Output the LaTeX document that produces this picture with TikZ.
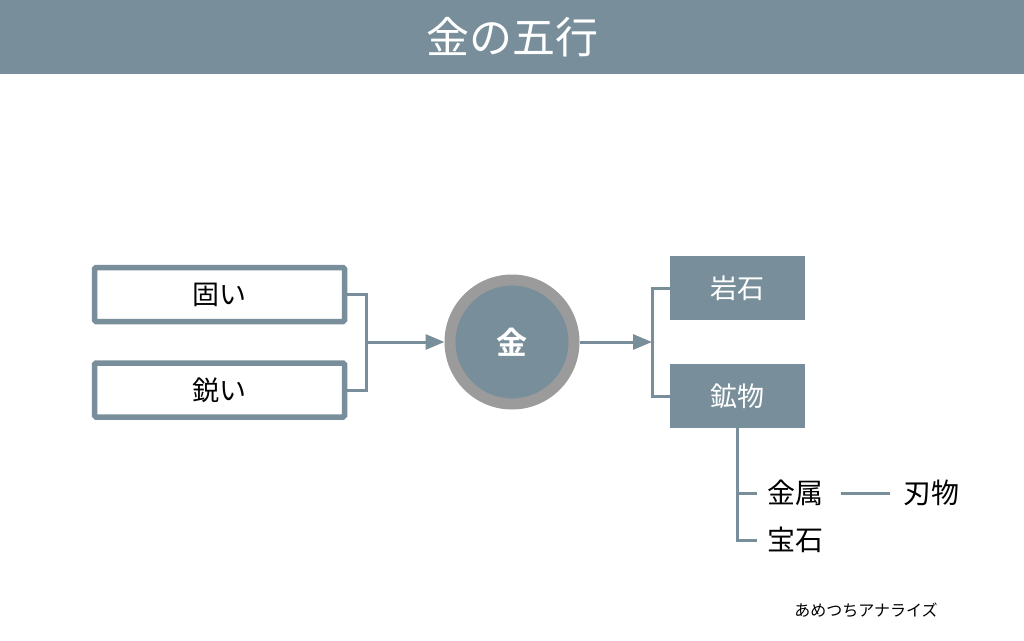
\documentclass[tikz,border=0pt]{standalone}
\usepackage{fontspec}
\newfontfamily\jp{Noto Sans CJK JP}
\newfontfamily\jpb{Noto Sans CJK JP Bold}
\usetikzlibrary{arrows.meta}
\definecolor{slate}{HTML}{788F9B}
\definecolor{ring}{HTML}{9B9B9B}
\tikzset{
  x=1pt,y=-1pt,
  outbox/.style={draw=slate,line width=5.5pt,rounded corners=1.5pt,fill=white,minimum width=250pt,minimum height=54pt,inner sep=0pt,font=\jp\fontsize{27}{27}\selectfont},
  fillbox/.style={fill=slate,minimum width=135pt,minimum height=64pt,inner sep=0pt,text=white,font=\jp\fontsize{27}{27}\selectfont},
  conn/.style={draw=slate,line width=3pt},
  arr/.style={conn,-{Triangle[length=19pt,width=15pt]}},
  plain/.style={inner sep=0pt,font=\jp\fontsize{28}{28}\selectfont},
}
\begin{document}
\begin{tikzpicture}
\useasboundingbox (0,0) rectangle (1024,640);
\fill[white] (0,0) rectangle (1024,640);
\fill[slate] (0,0) rectangle (1024,74);
\node[text=white,font=\jp\fontsize{43}{43}\selectfont] (title) at (512,37) {金の五行};

\node[outbox] (hard) at (219.5,294.5) {固い};
\node[outbox] (sharp) at (219.5,390) {鋭い};

\node[circle,fill=slate,draw=ring,line width=11pt,minimum size=124pt,inner sep=0pt,text=white,font=\jpb\fontsize{31}{31}\selectfont] (metal) at (512,342) {金};

\coordinate (jl) at (366,342);
\draw[conn] (hard.east) -- (hard.east -| jl) -- (sharp.east -| jl) -- (sharp.east);
\draw[arr] (jl) -- (metal.west);

\node[fillbox] (rock) at (737.5,288) {岩石};
\node[fillbox] (mineral) at (737.5,396) {鉱物};

\coordinate (jr) at (652,342);
\draw[arr] (metal.east) -- (jr);
\draw[conn] (rock.west) -- (rock.west -| jr) -- (mineral.west -| jr) -- (mineral.west);

\node[plain,anchor=west] (kinzoku) at (767,493) {金属};
\node[plain,anchor=west] (hoseki) at (767,540) {宝石};
\node[plain,anchor=west] (hamono) at (903,493) {刃物};

\coordinate (jv) at (737,493);
\draw[conn] (mineral.south) -- (mineral.south |- hoseki) -- ([xshift=-10pt]hoseki.west);
\draw[conn] (jv) -- ([xshift=-10pt]kinzoku.west);
\draw[conn] ([xshift=18pt]kinzoku.east) -- ([xshift=-13pt]hamono.west);

\node[font=\jp\fontsize{16}{16}\selectfont] (credit) at (866,610) {あめつちアナライズ};
\end{tikzpicture}
\end{document}
